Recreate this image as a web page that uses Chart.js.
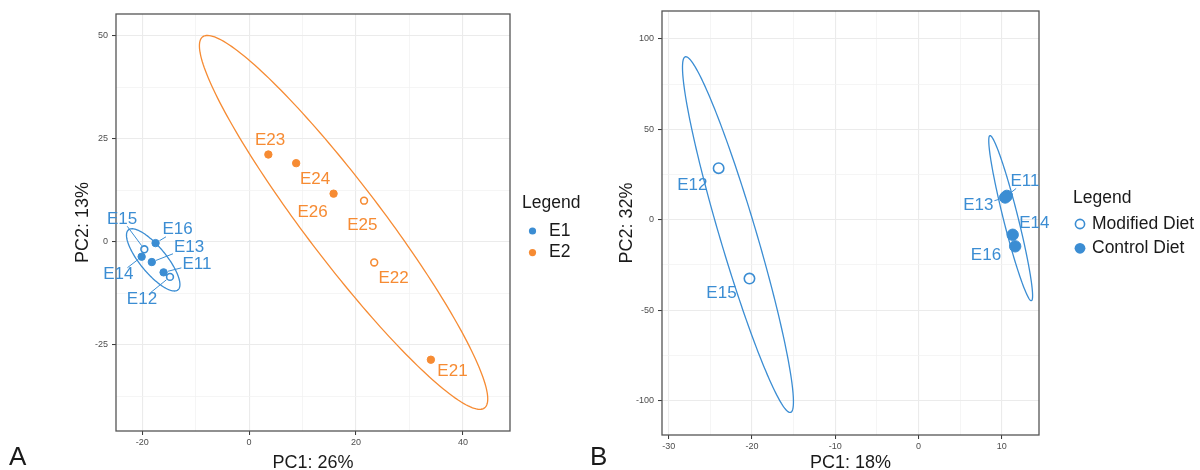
<!DOCTYPE html>
<html>
<head>
<meta charset="utf-8">
<script src="https://cdn.jsdelivr.net/npm/chart.js@4.4.1/dist/chart.umd.min.js"></script>
<style>
    body { margin: 0; background: #fff; }
    #wrap { position: relative; width: 1200px; height: 470px; overflow: hidden; }
    #chartA { position: absolute; left: 0; top: 0; }
    #chartB { position: absolute; left: 590px; top: 0; }
</style>
</head>
<body>
<div id="wrap">
    <canvas id="chartA" width="590" height="470"></canvas>
    <canvas id="chartB" width="610" height="470"></canvas>
</div>
<script>
// --- DATA: panel A (PCA coloured by E1 / E2) ---
const samplesA = ['E11', 'E12', 'E13', 'E14', 'E15', 'E16', 'E21', 'E22', 'E23', 'E24', 'E25', 'E26'];
const groupA   = ['E1', 'E1', 'E1', 'E1', 'E1', 'E1', 'E2', 'E2', 'E2', 'E2', 'E2', 'E2'];
const dietA    = ['Control', 'Modified', 'Control', 'Control', 'Modified', 'Control',
                  'Control', 'Modified', 'Control', 'Control', 'Modified', 'Control'];
const pc1A = [-16.0, -14.8, -18.2, -20.1, -19.6, -17.5, 34.0, 23.4, 3.6, 8.8, 21.5, 15.8];
const pc2A = [-7.4, -8.5, -4.9, -3.6, -1.8, -0.3, -28.6, -5.0, 21.2, 19.1, 10.0, 11.7];

// confidence ellipses: centre, end of long axis, end of short axis
const ellipseGroupA  = ['E1', 'E2'];
const ellipseCenterA = [[-17.94, -4.37], [17.67, 4.73]];
const ellipseMajorA  = [[-22.57, 2.91], [-8.69, 49.76]];
const ellipseMinorA  = [[-16.06, -2.35], [23.36, 10.3]];

const xTicksA = [-20, 0, 20, 40];
const yTicksA = [-25, 0, 25, 50];
const xRangeA = [-24.9, 48.8];
const yRangeA = [-45.9, 55.3];

// --- DATA: panel B (PCA of the E1 samples, by diet) ---
const samplesB = ['E11', 'E12', 'E13', 'E14', 'E15', 'E16'];
const dietB    = ['Control', 'Modified', 'Control', 'Control', 'Modified', 'Control'];
const pc1B = [10.6, -24.0, 10.4, 11.3, -20.3, 11.6];
const pc2B = [13.2, 28.5, 12.3, -8.3, -32.5, -14.7];

const ellipseCenterB = [[-21.68, -8.2], [11.06, 0.88]];
const ellipseMajorB  = [[-28.0, 90.1], [8.57, 46.5]];
const ellipseMinorB  = [[-19.58, -5.35], [11.91, 1.88]];

const xTicksB = [-30, -20, -10, 0, 10];
const yTicksB = [-100, -50, 0, 50, 100];
const xRangeB = [-30.8, 14.46];
const yRangeB = [-119, 115.4];

// --- LAYOUT (label nudges in px, like ggrepel output) ---
const labelOffsetA = [[33.3, -8.4], [-28, 22.7], [37.3, -14.6], [-23.3, 18], [-22.3, -30], [22, -13.3],
                      [21.6, 11.7], [19.3, 16.3], [1.7, -14], [19, 16], [-1.7, 24.3], [-21, 18.7]];
const labelLeaderA = [1, 1, 1, 1, 1, 1, 0, 0, 0, 0, 0, 0];
const labelOffsetB = [[18.1, -14.4], [-26.3, 17.3], [-26.9, 8], [21.6, -11.6], [-28, 14.4], [-29.2, 9]];
const labelLeaderB = [1, 0, 1, 0, 0, 0];

const COLORS = { E1: '#3b8dd3', E2: '#f68b33' };
const FONT = "'Liberation Sans', Arial, sans-serif";
Chart.defaults.font.family = FONT;

// --- HELPERS ---
function withMinor(majors, range) {
    const step = (majors[1] - majors[0]) / 2;
    const all = [];
    for (let v = majors[0] - step; v <= majors[majors.length - 1] + step + 1e-9; v += step) {
        if (v >= range[0] && v <= range[1]) all.push(+v.toFixed(4));
    }
    return all;
}

function makeScale(majors, range, boxSize, isX) {
    const allTicks = withMinor(majors, range);
    const isMajor = v => majors.includes(v);
    return {
        type: 'linear',
        min: range[0],
        max: range[1],
        afterBuildTicks: scale => { scale.ticks = allTicks.map(v => ({ value: v })); },
        afterFit: scale => {
            if (isX) { scale.height = boxSize; scale.paddingLeft = 0; scale.paddingRight = 0; }
            else { scale.width = boxSize; scale.paddingTop = 0; scale.paddingBottom = 0; }
        },
        ticks: {
            autoSkip: false,
            maxRotation: 0,
            padding: isX ? 2 : 4,
            color: '#4d4d4d',
            font: { size: 9 },
            callback: v => isMajor(v) ? String(v) : ''
        },
        grid: {
            color: c => isMajor(c.tick.value) ? '#ebebeb' : '#f2f2f2',
            lineWidth: c => isMajor(c.tick.value) ? 1.1 : 0.8,
            tickLength: 4,
            tickWidth: 1,
            tickColor: c => isMajor(c.tick.value) ? '#333333' : 'rgba(0,0,0,0)'
        },
        border: { display: false }
    };
}

function pointSet(xs, ys, keep, color, open, r) {
    const data = [];
    xs.forEach((x, i) => { if (keep(i)) data.push({ x: x, y: ys[i] }); });
    return {
        data: data,
        pointStyle: 'circle',
        pointRadius: open ? r - 0.8 : r - 0.5,
        pointBorderWidth: open ? 1.6 : 1,
        backgroundColor: open ? 'rgba(0,0,0,0)' : color,
        borderColor: color,
        pointHoverRadius: r
    };
}

function drawEllipse(ctx, xs, ys, c, m, n, color) {
    const cx = xs.getPixelForValue(c[0]), cy = ys.getPixelForValue(c[1]);
    const ux = xs.getPixelForValue(m[0]) - cx, uy = ys.getPixelForValue(m[1]) - cy;
    const vx = xs.getPixelForValue(n[0]) - cx, vy = ys.getPixelForValue(n[1]) - cy;
    ctx.beginPath();
    for (let i = 0; i <= 200; i++) {
        const t = i / 200 * Math.PI * 2;
        const px = cx + ux * Math.cos(t) + vx * Math.sin(t);
        const py = cy + uy * Math.cos(t) + vy * Math.sin(t);
        if (i === 0) ctx.moveTo(px, py); else ctx.lineTo(px, py);
    }
    ctx.closePath();
    ctx.strokeStyle = color;
    ctx.lineWidth = 1.3;
    ctx.stroke();
}

function drawLabel(ctx, px, py, text, off, leader, color, r) {
    ctx.font = '17px ' + FONT;
    ctx.fillStyle = color;
    ctx.textAlign = 'center';
    ctx.textBaseline = 'middle';
    const lx = px + off[0], ly = py + off[1];
    ctx.fillText(text, lx, ly);
    if (!leader) return;
    // segment from point towards label centre, clipped at the label box
    const hw = ctx.measureText(text).width / 2 + 1, hh = 7;
    const dx = px - lx, dy = py - ly;
    const t = Math.min(dx !== 0 ? hw / Math.abs(dx) : 1e9, dy !== 0 ? hh / Math.abs(dy) : 1e9);
    const ex = lx + dx * t, ey = ly + dy * t;
    const len = Math.hypot(px - ex, py - ey);
    if (len <= r + 1) return;
    const sx = px + (ex - px) * (r + 0.5) / len, sy = py + (ey - py) * (r + 0.5) / len;
    ctx.beginPath();
    ctx.moveTo(sx, sy);
    ctx.lineTo(ex, ey);
    ctx.strokeStyle = color;
    ctx.lineWidth = 1;
    ctx.stroke();
}

function drawText(ctx, text, x, y, size, align, rotate) {
    ctx.save();
    ctx.font = size + 'px ' + FONT;
    ctx.fillStyle = '#1a1a1a';
    ctx.textAlign = align;
    ctx.textBaseline = 'middle';
    ctx.translate(x, y);
    if (rotate) ctx.rotate(-Math.PI / 2);
    ctx.fillText(text, 0, 0);
    ctx.restore();
}

function legendDot(ctx, x, y, r, color, open) {
    ctx.beginPath();
    ctx.arc(x, y, r, 0, Math.PI * 2);
    if (open) { ctx.strokeStyle = color; ctx.lineWidth = 1.6; ctx.stroke(); }
    else { ctx.fillStyle = color; ctx.fill(); }
}

// --- PLUGIN: ellipses, border, repelled labels, titles and legend ---
const pcaDecor = {
    id: 'pcaDecor',
    beforeDatasetsDraw(chart, args, opts) {
        const ctx = chart.ctx, a = chart.chartArea;
        ctx.save();
        ctx.beginPath();
        ctx.rect(a.left, a.top, a.right - a.left, a.bottom - a.top);
        ctx.clip();
        opts.ellipses.forEach(e => drawEllipse(ctx, chart.scales.x, chart.scales.y, e.c, e.m, e.n, e.color));
        ctx.restore();
    },
    afterDraw(chart, args, opts) {
        const ctx = chart.ctx, a = chart.chartArea;
        const xs = chart.scales.x, ys = chart.scales.y;
        ctx.save();
        ctx.strokeStyle = '#555555';
        ctx.lineWidth = 1.3;
        ctx.strokeRect(a.left, a.top, a.right - a.left, a.bottom - a.top);

        opts.labels.forEach(l => {
            drawLabel(ctx, xs.getPixelForValue(l.x), ys.getPixelForValue(l.y), l.text, l.off, l.leader, l.color, l.r);
        });

        drawText(ctx, opts.xTitle, (a.left + a.right) / 2, 463, 18, 'center', false);
        drawText(ctx, opts.yTitle, opts.yTitleX, (a.top + a.bottom) / 2, 18, 'center', true);
        drawText(ctx, opts.letter, opts.letterX, 458, 26, 'left', false);

        const lg = opts.legend;
        drawText(ctx, 'Legend', lg.x, lg.y, 17.5, 'left', false);
        lg.items.forEach((it, i) => {
            const yy = lg.y + lg.first + i * lg.gap;
            legendDot(ctx, lg.dotX, yy, it.r, it.color, it.open);
            drawText(ctx, it.text, lg.textX, yy, 17.5, 'left', false);
        });
        ctx.restore();
    }
};

function baseOptions(scaleX, scaleY, padding, decor) {
    return {
        responsive: false,
        animation: false,
        layout: { padding: padding },
        scales: { x: scaleX, y: scaleY },
        plugins: { legend: { display: false }, tooltip: { enabled: false }, pcaDecor: decor }
    };
}

// --- CHART A ---
const isOpenA = i => dietA[i] === 'Modified';
const datasetsA = [];
['E1', 'E2'].forEach(g => {
    datasetsA.push(pointSet(pc1A, pc2A, i => groupA[i] === g && !isOpenA(i), COLORS[g], false, 4.2));
    datasetsA.push(pointSet(pc1A, pc2A, i => groupA[i] === g && isOpenA(i), COLORS[g], true, 4.2));
});

new Chart(document.getElementById('chartA'), {
    type: 'scatter',
    data: { datasets: datasetsA },
    options: baseOptions(
        makeScale(xTicksA, xRangeA, 39, true),
        makeScale(yTicksA, yRangeA, 116, false),
        { left: 0, right: 80, top: 14, bottom: 0 },
        {
            ellipses: ellipseGroupA.map((g, i) => ({
                c: ellipseCenterA[i], m: ellipseMajorA[i], n: ellipseMinorA[i], color: COLORS[g]
            })),
            labels: samplesA.map((s, i) => ({
                text: s, x: pc1A[i], y: pc2A[i], off: labelOffsetA[i], leader: labelLeaderA[i],
                color: COLORS[groupA[i]], r: 4
            })),
            xTitle: 'PC1: 26%', yTitle: 'PC2: 13%', yTitleX: 83,
            letter: 'A', letterX: 9,
            legend: {
                x: 522, y: 203, first: 28, gap: 21.6, dotX: 532.5, textX: 549,
                items: [
                    { text: 'E1', color: COLORS.E1, r: 3.6, open: false },
                    { text: 'E2', color: COLORS.E2, r: 3.6, open: false }
                ]
            }
        }
    ),
    plugins: [pcaDecor]
});

// --- CHART B ---
const isOpenB = i => dietB[i] === 'Modified';
new Chart(document.getElementById('chartB'), {
    type: 'scatter',
    data: {
        datasets: [
            pointSet(pc1B, pc2B, i => isOpenB(i), COLORS.E1, true, 6),
            pointSet(pc1B, pc2B, i => !isOpenB(i), COLORS.E1, false, 6.2)
        ]
    },
    options: baseOptions(
        makeScale(xTicksB, xRangeB, 35, true),
        makeScale(yTicksB, yRangeB, 72, false),
        { left: 0, right: 161, top: 11, bottom: 0 },
        {
            ellipses: ellipseCenterB.map((c, i) => ({
                c: c, m: ellipseMajorB[i], n: ellipseMinorB[i], color: COLORS.E1
            })),
            labels: samplesB.map((s, i) => ({
                text: s, x: pc1B[i], y: pc2B[i], off: labelOffsetB[i], leader: labelLeaderB[i],
                color: COLORS.E1, r: 6
            })),
            xTitle: 'PC1: 18%', yTitle: 'PC2: 32%', yTitleX: 37,
            letter: 'B', letterX: 0,
            legend: {
                x: 483, y: 198.5, first: 25.5, gap: 24.3, dotX: 490, textX: 502,
                items: [
                    { text: 'Modified Diet', color: COLORS.E1, r: 4.6, open: true },
                    { text: 'Control Diet', color: COLORS.E1, r: 5.4, open: false }
                ]
            }
        }
    ),
    plugins: [pcaDecor]
});
</script>
</body>
</html>
